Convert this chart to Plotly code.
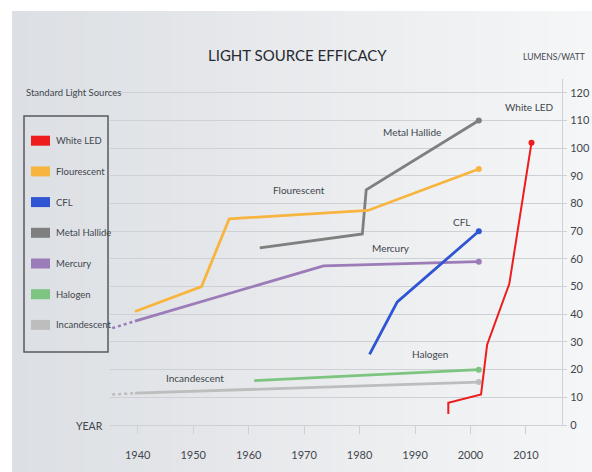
import plotly.graph_objects as go

# ---- series data (year, lumens per watt) ----
led_years = [1996, 1996, 2001.9, 2003, 2007, 2011]
led_vals = [4, 8, 11, 29, 51, 102]

fluor_years = [1939.5, 1951.5, 1956.5, 1981.5, 2001.5]
fluor_vals = [41, 50, 74.5, 77.5, 92.5]

cfl_years = [1981.8, 1986.8, 2001.5]
cfl_vals = [25.5, 44.5, 70]

metal_years = [1962, 1980.5, 1981.2, 2001.5]
metal_vals = [64, 69, 85, 110]

mercury_years = [1939.5, 1973.5, 2001.5]
mercury_vals = [37.5, 57.5, 59]
mercury_early_years = [1935.4, 1939.5]
mercury_early_vals = [35, 37.5]

halogen_years = [1961, 2001.5]
halogen_vals = [16, 20]

incand_years = [1939.5, 2001.5]
incand_vals = [11.5, 15.5]
incand_early_years = [1935.4, 1939.5]
incand_early_vals = [11, 11.5]

series_names = ["White LED", "Flourescent", "CFL", "Metal Hallide", "Mercury", "Halogen", "Incandescent"]
series_colors = ["#ee1c1c", "#f7b540", "#2f55d4", "#7f7f7f", "#9b7bb8", "#7cc47f", "#bdbdbd"]

x_ticks = [1940, 1950, 1960, 1970, 1980, 1990, 2000, 2010]
y_ticks = [0, 10, 20, 30, 40, 50, 60, 70, 80, 90, 100, 110, 120]

# in-chart labels: (text, year, value)
line_labels = [
    ("White LED", 2010.7, 115),
    ("Metal Hallide", 1989.5, 106),
    ("Flourescent", 1969.0, 85),
    ("CFL", 1998.3, 73.5),
    ("Mercury", 1985.7, 64),
    ("Halogen", 1992.7, 25.5),
    ("Incandescent", 1950.3, 17),
]

FONT = "Lato, Roboto, sans-serif"
TXT = "#41464d"
W, H = 592, 472
ML, MR, MT, MB = 110, 30, 79, 47
X_RANGE = [1935.0, 2016.5]
Y_RANGE = [0, 125]
GRID = "#cdd0d4"


def px_x(px):
    return (px - ML) / (W - ML - MR)


def px_y(py):
    return (H - MB - py) / (H - MT - MB)


fig = go.Figure()

series = [
    (led_years, led_vals),
    (fluor_years, fluor_vals),
    (cfl_years, cfl_vals),
    (metal_years, metal_vals),
    (mercury_years, mercury_vals),
    (halogen_years, halogen_vals),
    (incand_years, incand_vals),
]

# dotted lead-in segments
for xs, ys, col in [(mercury_early_years, mercury_early_vals, series_colors[4]),
                    (incand_early_years, incand_early_vals, series_colors[6])]:
    fig.add_trace(go.Scatter(x=xs, y=ys, mode="lines",
                             line=dict(color=col, width=2.5, dash="dot"),
                             showlegend=False, hoverinfo="skip"))

# draw back-to-front so White LED ends on top
for (xs, ys), name, col in reversed(list(zip(series, series_names, series_colors))):
    w = 2 if name == "White LED" else 2.8
    fig.add_trace(go.Scatter(x=xs, y=ys, mode="lines", name=name,
                             line=dict(color=col, width=w),
                             showlegend=False))
    fig.add_trace(go.Scatter(x=[xs[-1]], y=[ys[-1]], mode="markers",
                             marker=dict(color=col, size=6),
                             showlegend=False, hoverinfo="skip"))

shapes = []
# soft grey panel, lighter towards the right
n_strips = 40
x0p, x1p = 12, W
c_left = (220, 223, 227)
c_right = (245, 246, 247)
for i in range(n_strips):
    t = i / (n_strips - 1)
    c = tuple(round(a + (b - a) * t) for a, b in zip(c_left, c_right))
    sx0 = x0p + (x1p - x0p) * i / n_strips
    sx1 = x0p + (x1p - x0p) * (i + 1) / n_strips + 1
    shapes.append(dict(type="rect", xref="paper", yref="paper",
                       x0=px_x(sx0), x1=px_x(sx1), y0=px_y(H), y1=px_y(11),
                       fillcolor="rgb(%d,%d,%d)" % c, line=dict(width=0),
                       layer="below"))

# legend box
shapes.append(dict(type="rect", xref="paper", yref="paper",
                   x0=px_x(24), x1=px_x(108), y0=px_y(352), y1=px_y(116),
                   line=dict(color="#555a60", width=1.5), fillcolor="rgba(0,0,0,0)"))

annotations = []
row0, row_gap = 140.7, 30.7
for i, (name, col) in enumerate(zip(series_names, series_colors)):
    cy = row0 + i * row_gap
    shapes.append(dict(type="rect", xref="paper", yref="paper",
                       x0=px_x(31), x1=px_x(50), y0=px_y(cy + 5), y1=px_y(cy - 5),
                       fillcolor=col, line=dict(width=0)))
    annotations.append(dict(text=name, xref="paper", yref="paper",
                            x=px_x(54), y=px_y(cy), xanchor="left", yanchor="middle",
                            showarrow=False, font=dict(family=FONT, size=9.5, color=TXT)))

for text, xv, yv in line_labels:
    annotations.append(dict(text=text, x=xv, y=yv, xref="x", yref="y",
                            showarrow=False, font=dict(family=FONT, size=10, color=TXT)))

annotations += [
    dict(text="LIGHT SOURCE EFFICACY", xref="paper", yref="paper",
         x=px_x(297), y=px_y(55), xanchor="center", yanchor="middle", showarrow=False,
         font=dict(family=FONT, size=15, color="#262a30")),
    dict(text="LUMENS/WATT", xref="paper", yref="paper",
         x=px_x(587), y=px_y(57), xanchor="right", yanchor="middle", showarrow=False,
         font=dict(family=FONT, size=8.5, color=TXT)),
    dict(text="Standard Light Sources", xref="paper", yref="paper",
         x=px_x(24), y=px_y(92), xanchor="left", yanchor="middle", showarrow=False,
         font=dict(family=FONT, size=9.5, color=TXT)),
    dict(text="YEAR", xref="paper", yref="paper",
         x=px_x(105), y=px_y(426), xanchor="right", yanchor="middle", showarrow=False,
         font=dict(family=FONT, size=10.5, color=TXT)),
]

fig.update_layout(
    width=W, height=H,
    margin=dict(l=ML, r=MR, t=MT, b=MB, autoexpand=False),
    paper_bgcolor="white",
    plot_bgcolor="rgba(0,0,0,0)",
    shapes=shapes,
    annotations=annotations,
    showlegend=False,
    xaxis=dict(range=X_RANGE, tickvals=x_ticks, showgrid=False, zeroline=False,
               automargin=False,
               ticks="outside", ticklen=8, tickcolor=GRID, ticklabelstandoff=12,
               showline=True, linecolor=GRID, linewidth=1,
               tickfont=dict(family=FONT, size=11, color=TXT)),
    yaxis=dict(range=Y_RANGE, tickvals=y_ticks, side="right", showgrid=True,
               gridcolor=GRID, gridwidth=1, zeroline=False,
               automargin=False,
               showline=True, linecolor=GRID, linewidth=1,
               ticks="outside", ticklen=4, tickcolor=GRID, ticklabelstandoff=1,
               tickfont=dict(family=FONT, size=11, color=TXT)),
)

fig.write_html("out.html")
